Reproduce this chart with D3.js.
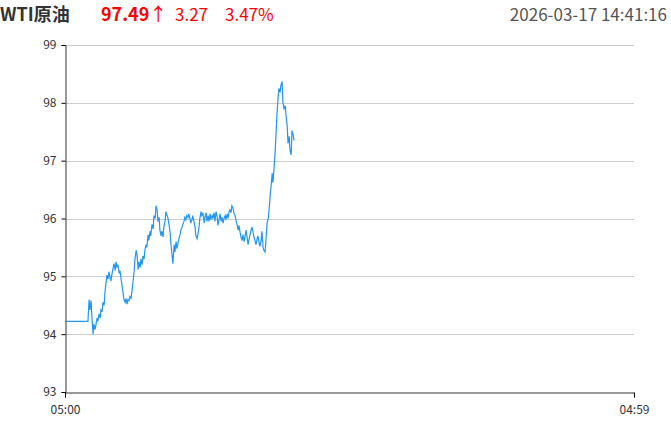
<html lang="zh">
  <head>
    <meta charset="utf-8">
    <title>WTI原油</title>
    <script src="https://d3js.org/d3.v7.min.js"></script>
    <style>
      body { margin: 0; background: #fff; font-family: "Noto Sans CJK SC", "Noto Sans", sans-serif; }
      #chart .grid line { stroke: #ccc; }
      #chart .axis text { fill: #333; font-size: 12px; font-family: "Noto Sans CJK SC", "Noto Sans", sans-serif; }
    </style>
  </head>
  <body>
    <svg id="chart" width="671" height="423"></svg>
    <script>

      // header
      const title = 'WTI原油'
      const lastPrice = '97.49'
      const change = '3.27'
      const changePct = '3.47%'
      const stamp = '2026-03-17 14:41:16'

      const yTicks = [93, 94, 95, 96, 97, 98, 99]
      const xTicks = [0, 1439] // minutes after 05:00
      const xTickLabels = ['05:00', '04:59']

      // [minutes after 05:00, price]
      const series = [
        [0, 94.22], [58, 94.22], [61, 94.60], [63, 94.42], [66, 94.58], [68, 94.30], [71, 94.00],
        [73, 94.18], [76, 94.08], [78, 94.15], [81, 94.28], [83, 94.22], [86, 94.35], [89, 94.28],
        [91, 94.42], [94, 94.40], [96, 94.55], [99, 94.50], [101, 94.72], [104, 94.90], [106, 95.02],
        [109, 94.95], [111, 95.08], [114, 94.98], [116, 94.92], [119, 95.05], [121, 95.12], [124, 95.22],
        [127, 95.10], [129, 95.25], [132, 95.15], [134, 95.20], [137, 95.05], [139, 95.10], [142, 94.95],
        [144, 94.85], [147, 94.70], [149, 94.60], [152, 94.55], [154, 94.62], [157, 94.52], [159, 94.60],
        [162, 94.58], [164, 94.65], [167, 94.62], [169, 94.72], [172, 94.90], [175, 95.10], [177, 95.30],
        [180, 95.45], [182, 95.38], [185, 95.12], [187, 95.25], [190, 95.15], [192, 95.30], [195, 95.20],
        [197, 95.35], [200, 95.30], [202, 95.45], [205, 95.55], [207, 95.50], [210, 95.72], [212, 95.62],
        [215, 95.78], [217, 95.70], [220, 95.90], [223, 95.82], [225, 96.05], [228, 96.00], [230, 96.22],
        [233, 96.15], [235, 95.95], [238, 96.02], [240, 95.80], [243, 95.70], [245, 95.78], [248, 95.68],
        [250, 95.85], [253, 95.95], [255, 96.12], [258, 96.05], [260, 96.02], [263, 95.90], [266, 95.75],
        [268, 95.55], [271, 95.35], [273, 95.22], [276, 95.55], [278, 95.42], [281, 95.60], [283, 95.48],
        [286, 95.58], [288, 95.65], [291, 95.72], [293, 95.80], [296, 95.85], [298, 95.90], [301, 95.95],
        [303, 96.02], [306, 95.98], [308, 96.05], [311, 96.02], [313, 96.08], [316, 96.00], [318, 95.92],
        [321, 95.98], [323, 96.05], [326, 95.95], [329, 95.85], [331, 95.70], [334, 95.65], [336, 95.72],
        [339, 95.85], [341, 96.00], [344, 96.12], [346, 96.05], [349, 96.10], [352, 95.92], [354, 96.02],
        [357, 96.10], [359, 95.95], [362, 96.05], [364, 95.95], [367, 96.08], [369, 95.98], [372, 96.05],
        [374, 96.00], [377, 96.10], [379, 95.95], [382, 96.12], [385, 96.02], [387, 95.88], [390, 96.00],
        [392, 96.08], [395, 95.95], [397, 96.02], [400, 95.92], [402, 96.00], [405, 96.05], [407, 95.98],
        [410, 96.08], [412, 96.00], [415, 96.12], [417, 96.15], [420, 96.10], [422, 96.22], [425, 96.18],
        [427, 96.10], [430, 96.05], [433, 95.95], [435, 95.90], [438, 95.80], [440, 95.88], [443, 95.75],
        [445, 95.68], [448, 95.62], [450, 95.72], [453, 95.60], [455, 95.68], [458, 95.80], [460, 95.70],
        [463, 95.55], [465, 95.62], [468, 95.72], [470, 95.78], [473, 95.85], [476, 95.75], [478, 95.68],
        [481, 95.60], [483, 95.55], [486, 95.65], [488, 95.70], [491, 95.58], [493, 95.52], [496, 95.62],
        [498, 95.78], [501, 95.50], [503, 95.45], [506, 95.42], [508, 95.60], [511, 95.92], [514, 96.00],
        [516, 96.15], [519, 96.40], [521, 96.55], [524, 96.78], [526, 96.62], [529, 96.90], [531, 97.10],
        [534, 97.50], [536, 97.80], [539, 98.10], [541, 98.25], [544, 98.18], [546, 98.30], [549, 98.37],
        [551, 98.02], [554, 97.90], [557, 97.95], [559, 97.78], [562, 97.60], [564, 97.30], [567, 97.42],
        [569, 97.18], [572, 97.10], [574, 97.52], [577, 97.45], [579, 97.35]
      ]

      const svg = d3.select('#chart')
      const margin = { top: 45, right: 37, bottom: 31, left: 65 }
      const width = +svg.attr('width')
      const height = +svg.attr('height')

      const x = d3.scaleLinear().domain([0, 1439]).range([margin.left, width - margin.right])
      const y = d3.scaleLinear().domain([93, 99]).range([height - margin.bottom, margin.top])

      // header text
      const head = svg.append('g').attr('font-size', 17)
      head.append('text').attr('x', 0).attr('y', 21).attr('font-size', 18)
        .attr('font-weight', 'bold').attr('fill', '#333').text(title)
      const price = head.append('text').attr('x', 101).attr('y', 21).attr('font-size', 18)
        .attr('font-weight', 'bold').attr('fill', '#f00').text(lastPrice)
      price.append('tspan').attr('font-weight', 'normal').text('↑')
      head.append('text').attr('x', 175).attr('y', 21).attr('fill', '#f00').text(change)
      head.append('text').attr('x', 225).attr('y', 21).attr('fill', '#f00').text(changePct)
      head.append('text').attr('x', 667).attr('y', 21).attr('text-anchor', 'end')
        .attr('fill', '#555').text(stamp)

      // grid
      svg.append('g').attr('class', 'grid')
        .selectAll('line').data(yTicks.slice(1)).join('line')
        .attr('x1', margin.left).attr('x2', width - margin.right)
        .attr('y1', d => Math.round(y(d)) + 0.5).attr('y2', d => Math.round(y(d)) + 0.5)

      // axes
      svg.append('g').attr('class', 'axis')
        .attr('transform', `translate(${margin.left + 0.5},0)`)
        .call(d3.axisLeft(y).tickValues(yTicks).tickSize(4).tickPadding(5).tickFormat(d3.format('d')))
        .call(g => g.selectAll('.domain').attr('stroke', '#333'))

      svg.append('g').attr('class', 'axis')
        .attr('transform', `translate(0,${height - margin.bottom + 0.5})`)
        .call(d3.axisBottom(x).tickValues(xTicks).tickSize(5).tickPadding(8)
          .tickFormat((d, i) => xTickLabels[i]))
        .call(g => g.selectAll('.domain').attr('stroke', '#333'))

      // price line
      const line = d3.line().x(d => x(d[0])).y(d => y(d[1]))
      svg.append('path').datum(series)
        .attr('fill', 'none')
        .attr('stroke', '#2196f3')
        .attr('stroke-width', 1.2)
        .attr('d', line)
    </script>
  </body>
</html>
